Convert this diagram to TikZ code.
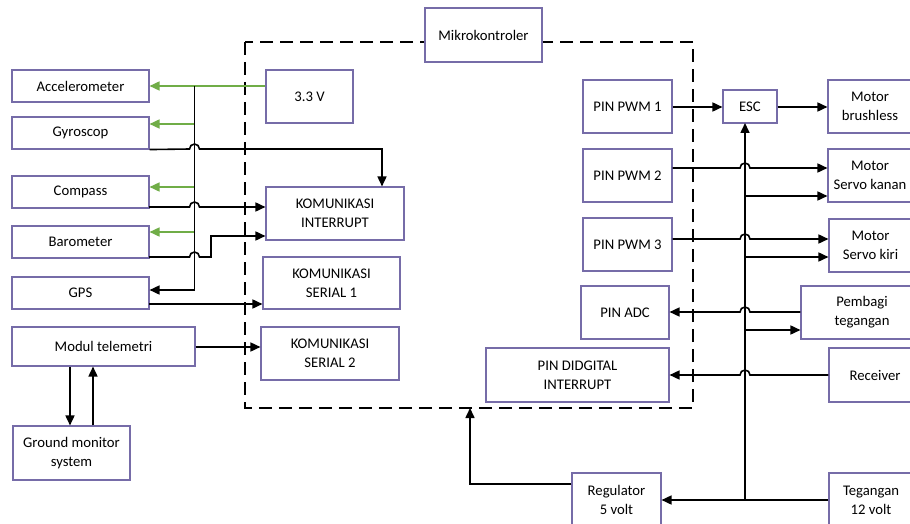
\documentclass[tikz,border=0pt]{standalone}
\usepackage{fontspec}
\setmainfont{Carlito}
\usetikzlibrary{arrows.meta,calc}
\definecolor{boxc}{RGB}{118,108,168}
\definecolor{grn}{RGB}{112,173,71}
\tikzset{
  box/.style={draw=boxc,line width=1.1pt,fill=white,align=center,inner sep=0pt,
    font=\fontsize{14.7}{19}\selectfont},
  conn/.style={line width=1.6pt,black},
  arr/.style={conn,-{Triangle[length=10pt,width=9pt]}},
  garr/.style={line width=1.6pt,grn,-{Triangle[length=10pt,width=9pt]}},
  dashbox/.style={line width=1.4pt,dash pattern=on 13pt off 7pt}
}
\newcommand{\bx}[6]{\node[box,minimum width=#3pt,minimum height=#4pt] (#1) at (#2) {#5};}
\begin{document}
\begin{tikzpicture}[x=1pt,y=-1pt]
\useasboundingbox (0,0) rectangle (910,524);
\clip (0,0) rectangle (910,524);
\fill[white] (0,0) rectangle (910,524);
% dashed microcontroller frame
\draw[dashbox] (245,42) rectangle (693,408);
% boxes
\bx{acc}{80.5,86}{137}{32}{Accelerometer}{}
\bx{gyro}{80.5,133}{137}{32}{Gyroscop}{}
\bx{comp}{80.5,192}{137}{32}{Compass}{}
\bx{baro}{80.5,242}{137}{32}{Barometer}{}
\bx{gps}{80.5,293}{137}{32}{GPS}{}
\bx{v33}{309.5,96.5}{87}{53}{3.3 V}{}
\bx{ki}{335,213.5}{138}{53}{KOMUNIKASI\\INTERRUPT}{}
\bx{ks1}{331.5,283}{137}{52}{KOMUNIKASI\\SERIAL 1}{}
\bx{modul}{103.5,346.5}{183}{39}{Modul telemetri}{}
\bx{ks2}{330,353.5}{138}{53}{KOMUNIKASI\\SERIAL 2}{}
\bx{ground}{71.5,453}{117}{54}{Ground monitor\\system}{}
\bx{mikro}{483.5,35}{117}{54}{Mikrokontroler}{}
\bx{pwm1}{627.5,106.5}{89}{53}{PIN PWM 1}{}
\bx{pwm2}{627.5,175.5}{89}{53}{PIN PWM 2}{}
\bx{pwm3}{627.5,244.5}{89}{53}{PIN PWM 3}{}
\bx{esc}{750,106.5}{54}{33}{ESC}{}
\bx{mb}{870,106.5}{84}{53}{Motor\\brushless}{}
\bx{msk}{870,175.5}{84}{53}{Motor\\Servo kanan}{}
\bx{mski}{870.5,245.5}{83}{53}{Motor\\Servo kiri}{}
\bx{adc}{625,312.5}{88}{53}{PIN ADC}{}
\bx{pemb}{862,312.5}{122}{53}{Pembagi\\tegangan}{}
\bx{dig}{577.5,375}{183}{54}{PIN DIDGITAL\\INTERRUPT}{}
\bx{recv}{875,375}{92}{54}{Receiver}{}
\bx{reg}{616.5,500}{89}{54}{Regulator\\5 volt}{}
\bx{teg}{871,500}{84}{54}{Tegangan\\12 volt}{}
% ---- left side connectors ----
\coordinate (lbtop) at (194.5,86);
\coordinate (lbbot) at (194.5,290);
\draw[garr] (v33.west |- acc.east) -- (acc.east);
\draw[garr] (lbtop |- 0,124) -- (gyro.east |- 0,124);
\draw[garr] (lbtop |- 0,187) -- (comp.east |- 0,187);
\draw[garr] (lbtop |- 0,232) -- (baro.east |- 0,232);
\draw[arr] (lbtop) -- (lbbot) -- (gps.east |- lbbot);
% Gyroscop -> KOMUNIKASI INTERRUPT
\draw[arr] (gyro.south east) -- (189.5,149) arc[start angle=180,end angle=0,radius=5pt]
  -- (382,149) -- (ki.north -| 382,0);
% Compass -> KI
\draw[arr] (149,207) -- (189.5,207) arc[start angle=180,end angle=0,radius=5pt] -- (ki.west |- 0,207);
% Barometer -> KI
\draw[arr] (149,257) -- (189.5,257) arc[start angle=180,end angle=0,radius=5pt] -- (211,257) -- (211,236) -- (ki.west |- 0,236);
% GPS -> Serial 1
\draw[arr] (149,304) -- (ks1.west |- 0,304);
% Modul telemetri -> Serial 2
\draw[arr] (modul.east |- 0,347) -- (ks2.west |- 0,347);
% Modul <-> Ground
\draw[arr] (modul.south -| 70,0) -- (ground.north -| 70,0);
\draw[arr] (ground.north -| 93,0) -- (modul.south -| 93,0);
% ---- right side connectors ----
\coordinate (rbbot) at (745,500);
\draw[arr] (pwm1.east |- 0,107) -- (esc.west |- 0,107);
\draw[arr] (esc.east |- 0,107) -- (mb.west |- 0,107);
\draw[arr] (rbbot) -- (745,123);
\draw[arr] (pwm2.east |- 0,168) -- (740,168) arc[start angle=180,end angle=0,radius=5pt] -- (msk.west |- 0,168);
\draw[arr] (745,196) -- (msk.west |- 0,196);
\draw[arr] (pwm3.east |- 0,239) -- (740,239) arc[start angle=180,end angle=0,radius=5pt] -- (mski.west |- 0,239);
\draw[arr] (745,257) -- (mski.west |- 0,257);
\draw[arr] (pemb.west |- 0,312) -- (750,312) arc[start angle=0,end angle=180,radius=5pt] -- (adc.east |- 0,312);
\draw[arr] (745,330) -- (pemb.west |- 0,330);
\draw[arr] (recv.west |- 0,375) -- (750,375) arc[start angle=0,end angle=180,radius=5pt] -- (dig.east |- 0,375);
\draw[arr] (teg.west |- rbbot) -- (reg.east |- rbbot);
\draw[arr] (reg.west |- 0,484) -- (470,484) -- (470,408);
\end{tikzpicture}
\end{document}
